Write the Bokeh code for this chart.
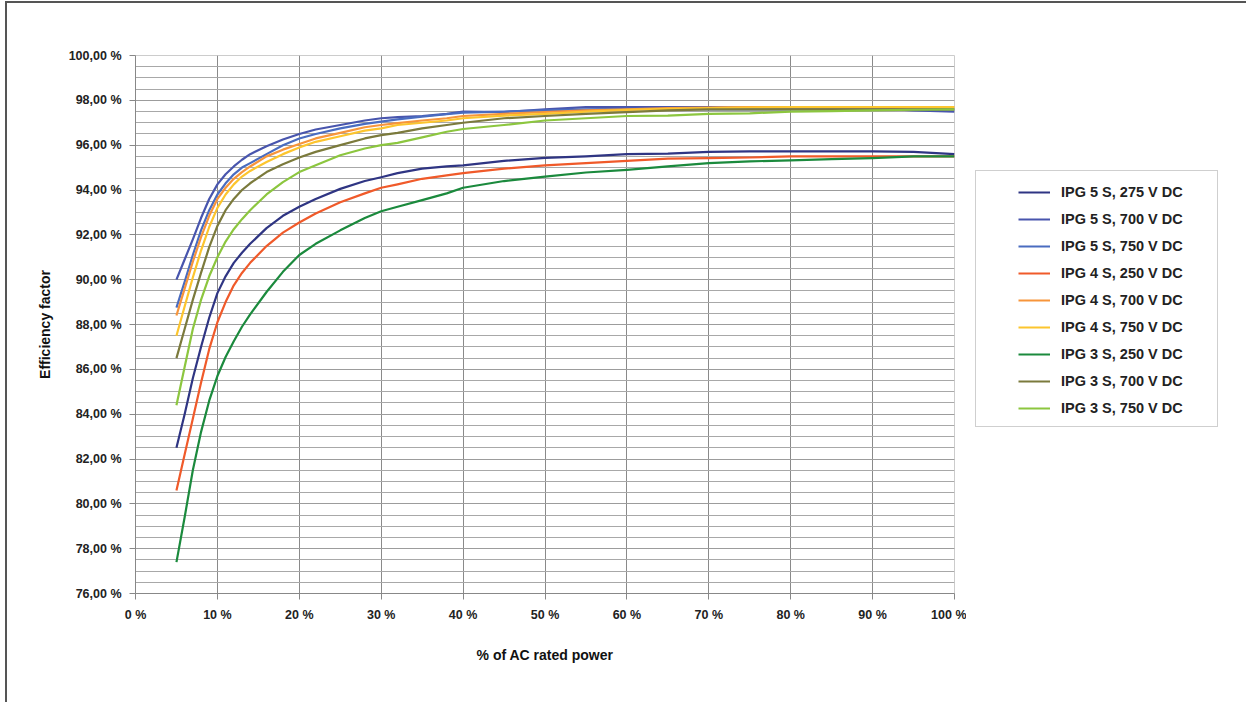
from bokeh.plotting import figure
from bokeh.layouts import row
from bokeh.models import (Range1d, FixedTicker, CustomJSTickFormatter, Legend, LegendItem)
from bokeh.embed import file_html
from bokeh.resources import INLINE

# ---- data ----
load_pct = [5, 6, 7, 8, 9, 10, 11, 12, 13, 14, 16, 18, 20, 22, 25, 28, 30, 32, 35, 38, 40,
            45, 50, 55, 60, 65, 70, 75, 80, 85, 90, 95, 100]

ipg5_275 = [82.5, 84.0, 85.6, 87.0, 88.3, 89.4, 90.15, 90.75, 91.2, 91.6, 92.3, 92.85, 93.25, 93.6, 94.05, 94.4, 94.57,
            94.75, 94.95, 95.05, 95.1, 95.3, 95.43, 95.5, 95.6, 95.62, 95.7, 95.72, 95.72, 95.72, 95.72, 95.7, 95.6]
ipg5_700 = [90.0, 90.9, 91.8, 92.75, 93.6, 94.25, 94.7, 95.05, 95.35, 95.6, 95.95, 96.25, 96.5, 96.7, 96.9, 97.1, 97.2,
            97.25, 97.3, 97.4, 97.5, 97.48, 97.6, 97.7, 97.7, 97.7, 97.7, 97.68, 97.65, 97.65, 97.65, 97.55, 97.5]
ipg5_750 = [88.75, 89.9, 91.1, 92.2, 93.1, 93.8, 94.3, 94.7, 95.0, 95.2, 95.6, 96.0, 96.3, 96.5, 96.75, 96.95, 97.05,
            97.15, 97.27, 97.38, 97.45, 97.5, 97.55, 97.6, 97.62, 97.62, 97.6, 97.6, 97.6, 97.6, 97.6, 97.6, 97.6]
ipg4_250 = [80.6, 82.2, 83.8, 85.4, 86.9, 88.1, 89.0, 89.75, 90.3, 90.75, 91.5, 92.1, 92.55, 92.95, 93.45, 93.85, 94.1,
            94.25, 94.5, 94.65, 94.75, 94.95, 95.1, 95.2, 95.3, 95.4, 95.42, 95.45, 95.5, 95.5, 95.5, 95.5, 95.5]
ipg4_700 = [88.4, 89.6, 90.8, 91.9, 92.85, 93.6, 94.1, 94.5, 94.8, 95.05, 95.5, 95.8, 96.05, 96.3, 96.55, 96.8, 96.9,
            96.98, 97.1, 97.2, 97.3, 97.4, 97.48, 97.55, 97.6, 97.65, 97.68, 97.7, 97.7, 97.7, 97.7, 97.7, 97.7]
ipg4_750 = [87.5, 88.8, 90.1, 91.3, 92.35, 93.2, 93.8, 94.25, 94.6, 94.85, 95.25, 95.6, 95.9, 96.15, 96.4, 96.65, 96.75,
            96.9, 97.0, 97.1, 97.2, 97.32, 97.4, 97.5, 97.57, 97.62, 97.65, 97.68, 97.7, 97.7, 97.7, 97.7, 97.7]
ipg3_250 = [77.4, 79.4, 81.5, 83.2, 84.6, 85.7, 86.55, 87.25, 87.9, 88.45, 89.45, 90.35, 91.1, 91.6, 92.2, 92.75, 93.05,
            93.25, 93.55, 93.85, 94.1, 94.4, 94.6, 94.78, 94.9, 95.05, 95.2, 95.28, 95.32, 95.38, 95.42, 95.5, 95.5]
ipg3_700 = [86.5, 87.8, 89.1, 90.3, 91.45, 92.4, 93.1, 93.6, 94.0, 94.3, 94.8, 95.15, 95.45, 95.7, 96.0, 96.3, 96.45,
            96.55, 96.75, 96.9, 97.0, 97.2, 97.3, 97.4, 97.47, 97.55, 97.6, 97.6, 97.6, 97.6, 97.6, 97.6, 97.6]
ipg3_750 = [84.4, 86.1, 87.8, 89.1, 90.15, 91.0, 91.7, 92.25, 92.7, 93.1, 93.8, 94.35, 94.8, 95.1, 95.55, 95.85, 96.0,
            96.1, 96.35, 96.6, 96.72, 96.9, 97.1, 97.2, 97.3, 97.32, 97.4, 97.42, 97.5, 97.52, 97.55, 97.58, 97.6]

series_labels = ["IPG 5 S, 275 V DC", "IPG 5 S, 700 V DC", "IPG 5 S, 750 V DC",
                 "IPG 4 S, 250 V DC", "IPG 4 S, 700 V DC", "IPG 4 S, 750 V DC",
                 "IPG 3 S, 250 V DC", "IPG 3 S, 700 V DC", "IPG 3 S, 750 V DC"]
series_values = [ipg5_275, ipg5_700, ipg5_750, ipg4_250, ipg4_700, ipg4_750, ipg3_250, ipg3_700, ipg3_750]
series_colors = ["#2f3583", "#4855ad", "#4a6cc0", "#f05a2a", "#f7953b", "#fcc52e", "#1b8a3d", "#7b7a3c", "#8cc63f"]

y_ticks = [76, 78, 80, 82, 84, 86, 88, 90, 92, 94, 96, 98, 100]
y_minor = [76 + 0.5 * i for i in range(49)]
x_ticks = [0, 10, 20, 30, 40, 50, 60, 70, 80, 90, 100]

FONT = "'Liberation Sans', Arial, sans-serif"

p = figure(frame_width=819, frame_height=538, output_backend="svg", toolbar_location=None,
           x_range=Range1d(0, 100), y_range=Range1d(76, 100),
           min_border_left=128, min_border_right=12, min_border_top=52, min_border_bottom=109)
p.background_fill_color = "white"
p.border_fill_color = "white"
p.outline_line_color = "#cccccc"

renderers = []
for vals, col in zip(series_values, series_colors):
    r = p.line(load_pct, vals, line_color=col, line_width=2.2, line_join="round")
    renderers.append(r)

p.yaxis.ticker = FixedTicker(ticks=y_ticks, minor_ticks=y_minor)
p.xaxis.ticker = FixedTicker(ticks=x_ticks)
p.yaxis.formatter = CustomJSTickFormatter(code="return tick.toFixed(2).replace('.', ',') + ' %';")
p.xaxis.formatter = CustomJSTickFormatter(code="return tick.toFixed(0) + ' %';")
for ax in (p.xaxis[0], p.yaxis[0]):
    ax.axis_line_color = "#888888"
    ax.major_tick_line_color = "#888888"
    ax.major_tick_out = 6
    ax.major_tick_in = 0
    ax.minor_tick_line_color = None
    ax.major_label_text_font = FONT
    ax.major_label_text_font_style = "bold"
    ax.major_label_text_font_size = "12.5px"
    ax.major_label_text_color = "#222222"
    ax.axis_label_text_font = FONT
    ax.axis_label_text_font_style = "bold"
    ax.axis_label_text_font_size = "14px"
    ax.axis_label_text_color = "#111111"

p.yaxis.axis_label = "Efficiency factor"
p.yaxis.axis_label_standoff = 13
p.yaxis.major_label_standoff = 8
p.xaxis.axis_label = "% of AC rated power"
p.xaxis.axis_label_standoff = 22
p.xaxis.major_label_standoff = 8

p.ygrid.ticker = FixedTicker(ticks=y_ticks, minor_ticks=y_minor)
p.ygrid.grid_line_color = "#9c9c9c"
p.ygrid.minor_grid_line_color = "#a8a8a8"
p.xgrid.grid_line_color = "#8a8a8a"

# legend panel: a separate figure of the same height, frames aligned with the chart
lg = figure(frame_width=280, frame_height=538, output_backend="svg", toolbar_location=None,
            x_range=Range1d(0, 1), y_range=Range1d(0, 1),
            min_border_left=0, min_border_right=0, min_border_top=52, min_border_bottom=109)
lg.axis.visible = False
lg.grid.visible = False
lg.outline_line_color = None
lg.border_fill_color = "white"
lg.background_fill_color = "white"

# legend swatches: same series (they lie outside this panel's 0..1 ranges, so only the legend shows them)
lg_renderers = [lg.line(load_pct, vals, line_color=col, line_width=2)
                for vals, col in zip(series_values, series_colors)]
dummy = lg.line([], [], line_alpha=0)

box = Legend(items=[LegendItem(label=" ", renderers=[dummy])], location=(9, 166),
             padding=0, margin=0, spacing=0, glyph_width=1, glyph_height=255,
             label_width=240, label_height=255, label_standoff=0,
             border_line_color="#a0a0a0", border_line_width=1.5,
             background_fill_color="white", background_fill_alpha=1)
lg.add_layout(box, "center")

legend = Legend(items=[LegendItem(label=lab, renderers=[r]) for lab, r in zip(series_labels, lg_renderers)],
                location=(52, 175), padding=0, margin=0, spacing=7,
                glyph_width=32, glyph_height=20, label_height=20, label_standoff=11,
                border_line_alpha=0, background_fill_alpha=0,
                label_text_font=FONT, label_text_font_style="bold",
                label_text_font_size="14.5px", label_text_color="#222222")
lg.add_layout(legend, "center")

layout = row(p, lg, spacing=0,
             styles={"margin-left": "5px", "margin-top": "1px",
                     "border-left": "2px solid #555555", "border-top": "2px solid #555555"})
open("out.html", "w").write(file_html(layout, INLINE))
